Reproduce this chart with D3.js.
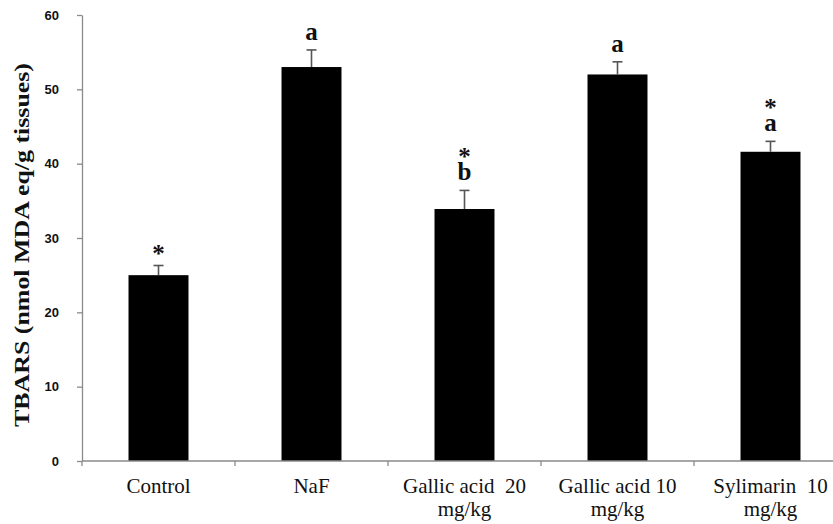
<!DOCTYPE html>
<html>
<head>
<meta charset="utf-8">
<script src="https://cdn.jsdelivr.net/npm/d3@7/dist/d3.min.js"></script>
<style>
  html, body { margin: 0; padding: 0; background: #fff; }
  svg { display: block; }
  text { white-space: pre; }
</style>
</head>
<body>
<svg id="chart" width="833" height="524"></svg>
<script>
// Groups (label lines as printed under each bar)
const categories = ["Control", "NaF", "Gallic acid 20 mg/kg", "Gallic acid 10 mg/kg", "Sylimarin 10 mg/kg"];
const categoryLines = [["Control"], ["NaF"], ["Gallic acid  20", "mg/kg"], ["Gallic acid 10", "mg/kg"], ["Sylimarin  10", "mg/kg"]];
// TBARS means and standard errors
const means = [25.0, 53.0, 33.9, 52.0, 41.6];
const errors = [1.3, 2.3, 2.5, 1.7, 1.4];
// Significance marks: letter and asterisk
const letters = ["", "a", "b", "a", "a"];
const stars = [true, false, true, false, true];
const yTicks = [0, 10, 20, 30, 40, 50, 60];
const yTitle = "TBARS (nmol MDA eq/g tissues)";

const svg = d3.select("#chart");
const plotLeft = 82, plotTop = 15, plotBottom = 461, step = 153;
const axisColor = "#8a8a8a";

const data = categories.map((c, i) => ({
  cat: c, lines: categoryLines[i], mean: means[i], err: errors[i],
  letter: letters[i], star: stars[i]
}));

const x = d3.scaleBand()
  .domain(categories)
  .range([plotLeft, plotLeft + step * categories.length])
  .paddingInner(0.608)
  .paddingOuter(0.304);

const y = d3.scaleLinear().domain([0, 60]).range([plotBottom, plotTop]);

// Y axis
const yAxis = svg.append("g")
  .attr("transform", `translate(${plotLeft},0)`)
  .call(d3.axisLeft(y).tickValues(yTicks).tickSize(5).tickSizeOuter(0).tickPadding(18));
yAxis.select(".domain").attr("stroke", axisColor).attr("stroke-width", 1.3);
yAxis.selectAll(".tick line").attr("stroke", axisColor).attr("stroke-width", 1.3);
yAxis.selectAll(".tick text")
  .attr("fill", "#111")
  .style("font-family", "'Liberation Sans', Arial, sans-serif")
  .style("font-weight", "bold")
  .style("font-size", "13px");

// Y axis title
svg.append("text")
  .attr("transform", "translate(29,245) rotate(-90)")
  .attr("text-anchor", "middle")
  .attr("textLength", 364)
  .attr("lengthAdjust", "spacingAndGlyphs")
  .style("font-family", "'Liberation Serif', 'Times New Roman', serif")
  .style("font-weight", "bold")
  .style("font-size", "21px")
  .attr("fill", "#111")
  .text(yTitle);

// Bars
svg.append("g").selectAll("rect")
  .data(data)
  .join("rect")
  .attr("x", d => x(d.cat))
  .attr("y", d => y(d.mean))
  .attr("width", x.bandwidth())
  .attr("height", d => y(0) - y(d.mean))
  .attr("fill", "#000");

// Error bars (upper half)
const eb = svg.append("g").attr("stroke", "#555").attr("stroke-width", 1.6);
data.forEach(d => {
  const cx = x(d.cat) + x.bandwidth() / 2;
  eb.append("line").attr("x1", cx).attr("x2", cx).attr("y1", y(d.mean)).attr("y2", y(d.mean + d.err));
  eb.append("line").attr("x1", cx - 5).attr("x2", cx + 5).attr("y1", y(d.mean + d.err)).attr("y2", y(d.mean + d.err));
});

// X axis line and boundary ticks
const xAxisG = svg.append("g").attr("stroke", axisColor).attr("stroke-width", 1.3);
xAxisG.append("line").attr("x1", plotLeft).attr("x2", plotLeft + step * categories.length).attr("y1", plotBottom).attr("y2", plotBottom);
d3.range(categories.length + 1).forEach(i => {
  const bx = plotLeft + i * step;
  xAxisG.append("line").attr("x1", bx).attr("x2", bx).attr("y1", plotBottom).attr("y2", plotBottom + 5);
});

// Category labels
const labels = svg.append("g")
  .style("font-family", "'Liberation Serif', 'Times New Roman', serif")
  .style("font-size", "21px")
  .attr("fill", "#111")
  .attr("text-anchor", "middle");
data.forEach(d => {
  const cx = x(d.cat) + x.bandwidth() / 2;
  const t = labels.append("text").attr("x", cx).attr("y", 493);
  d.lines.forEach((ln, j) => {
    t.append("tspan").attr("x", cx).attr("dy", j === 0 ? 0 : 23).text(ln);
  });
});

// Significance annotations: asterisk stacked above the letter in one text block
const ann = svg.append("g")
  .style("font-family", "'Liberation Serif', 'Times New Roman', serif")
  .style("font-weight", "bold")
  .style("font-size", "25px")
  .attr("fill", "#111")
  .attr("text-anchor", "middle");
data.forEach(d => {
  const cx = x(d.cat) + x.bandwidth() / 2;
  const errTop = y(d.mean + d.err);
  if (d.letter) {
    const lb = errTop - 10;
    const t = ann.append("text").attr("x", cx).attr("y", d.star ? lb - 15 : lb);
    if (d.star) {
      t.append("tspan").attr("x", cx).text("*");
      t.append("tspan").attr("x", cx).attr("dy", 15).text(d.letter);
    } else {
      t.text(d.letter);
    }
  } else if (d.star) {
    ann.append("text").attr("x", cx).attr("y", errTop - 4).text("*");
  }
});
</script>
</body>
</html>
